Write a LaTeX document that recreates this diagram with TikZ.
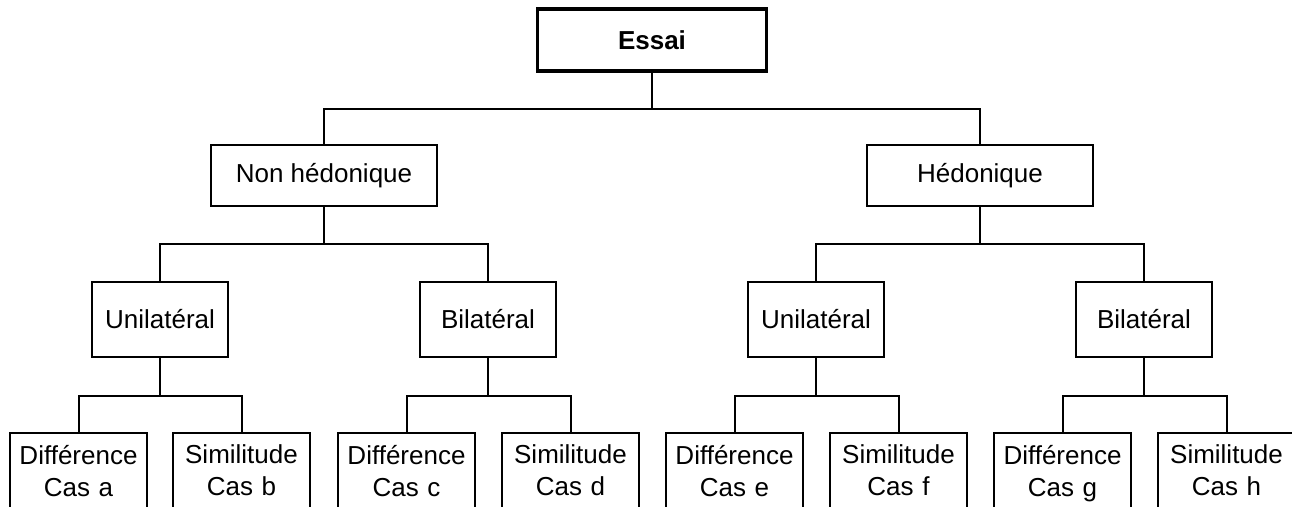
\documentclass[tikz,border=0pt]{standalone}
\usepackage{fontspec}
\setmainfont{Liberation Sans}
\begin{document}
\begin{tikzpicture}[x=1pt,y=-1pt,
  box/.style={draw=black,line width=2pt,fill=white,inner sep=0pt,align=center,
    font=\fontsize{26}{32}\selectfont},
  topbox/.style={box,line width=3.5pt,minimum width=229pt,minimum height=62pt,
    font=\fontsize{26}{32}\selectfont\bfseries},
  midbox/.style={box,minimum width=226pt,minimum height=61pt},
  subbox/.style={box,minimum width=136pt,minimum height=75pt},
  leafbox/.style={box,text width=137pt,inner xsep=0pt,inner ysep=12pt,anchor=north},
  link/.style={draw=black,line width=2pt}]
\useasboundingbox (0,0) rectangle (1292,506);
\clip (0,0) rectangle (1292,506);
\fill[white] (0,0) rectangle (1292,506);

\node[topbox] (essai) at (652,40) {Essai};
\node[midbox] (nh) at (324,175.5) {Non hédonique};
\node[midbox] (h) at (980,175.5) {Hédonique};

\node[subbox] (u1) at (160,319.5) {Unilatéral};
\node[subbox] (b1) at (488,319.5) {Bilatéral};
\node[subbox] (u2) at (816,319.5) {Unilatéral};
\node[subbox] (b2) at (1144,319.5) {Bilatéral};

\node[leafbox] (la) at (78.5,432) {Différence\\Cas a\strut};
\node[leafbox] (lb) at (241.5,432) {Similitude\\Cas b\strut};
\node[leafbox] (lc) at (406.5,432) {Différence\\Cas c\strut};
\node[leafbox] (ld) at (570.5,432) {Similitude\\Cas d\strut};
\node[leafbox] (le) at (734.5,432) {Différence\\Cas e\strut};
\node[leafbox] (lf) at (898.5,432) {Similitude\\Cas f\strut};
\node[leafbox] (lg) at (1062.5,432) {Différence\\Cas g\strut};
\node[leafbox] (lh) at (1226.5,432) {Similitude\\Cas h\strut};

\path[link] (essai.south) -- ++(0,36) -| (nh.north);
\path[link] (essai.south) ++(0,36) -| (h.north);

\path[link] (nh.south) -- ++(0,37) -| (u1.north);
\path[link] (nh.south) ++(0,37) -| (b1.north);
\path[link] (h.south) -- ++(0,37) -| (u2.north);
\path[link] (h.south) ++(0,37) -| (b2.north);

\path[link] (u1.south) -- ++(0,38) -| (la.north);
\path[link] (u1.south) ++(0,38) -| (lb.north);
\path[link] (b1.south) -- ++(0,38) -| (lc.north);
\path[link] (b1.south) ++(0,38) -| (ld.north);
\path[link] (u2.south) -- ++(0,38) -| (le.north);
\path[link] (u2.south) ++(0,38) -| (lf.north);
\path[link] (b2.south) -- ++(0,38) -| (lg.north);
\path[link] (b2.south) ++(0,38) -| (lh.north);
\end{tikzpicture}
\end{document}
